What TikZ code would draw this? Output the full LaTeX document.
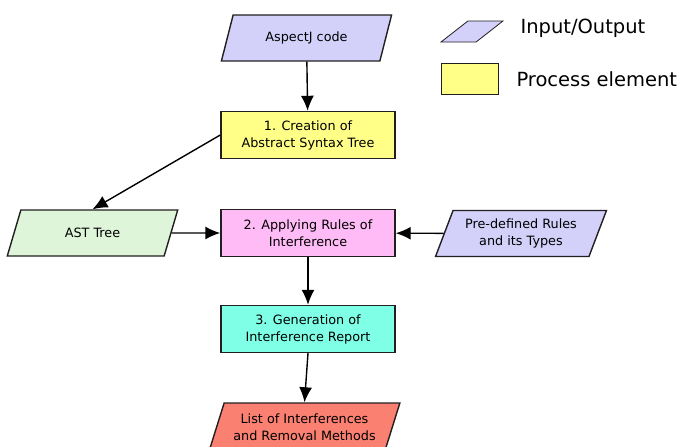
\documentclass[tikz,border=0pt]{standalone}
\usepackage{fontspec}
\setmainfont{DejaVu Sans}
\usepackage{tikz}
\usetikzlibrary{arrows.meta,shapes.geometric}

\definecolor{iocol}{HTML}{D3D0FA}
\definecolor{proccol}{HTML}{FFFF88}
\definecolor{astcol}{HTML}{DFF5DA}
\definecolor{rulecol}{HTML}{FFBBF5}
\definecolor{repcol}{HTML}{7FFFE6}
\definecolor{outcol}{HTML}{FA8072}
\definecolor{edgecol}{HTML}{231F20}

\begin{document}
\begin{tikzpicture}[x=1pt,y=-1pt,
    iobox/.style={trapezium,trapezium left angle=65,trapezium right angle=115,
      trapezium stretches=true,draw=edgecol,line width=1.4pt,inner sep=1pt,
      minimum width=171pt,minimum height=46pt,align=center,
      font=\fontsize{12.8}{17}\selectfont},
    procbox/.style={rectangle,draw=edgecol,line width=1.4pt,inner sep=1pt,
      minimum width=174pt,minimum height=47pt,align=center,
      font=\fontsize{12.8}{17}\selectfont},
    flow/.style={line width=1.4pt,-{Latex[length=15pt,width=13pt]}}]
  \useasboundingbox (0,0) rectangle (681,447);

  % main column
  \node[iobox,fill=iocol] (aspectj) at (306.5,38) {AspectJ code};
  \node[procbox,fill=proccol] (create) at (308,135) {1. Creation of\\Abstract Syntax Tree};
  \node[procbox,fill=rulecol] (apply) at (308,233) {2. Applying Rules of\\Interference};
  \node[procbox,fill=repcol] (report) at (308,329) {3. Generation of\\Interference Report};
  \node[iobox,fill=outcol,minimum width=191pt,minimum height=48pt] (result) at (304.5,427) {List of Interferences\\and Removal Methods};

  % side inputs
  \node[iobox,fill=astcol] (ast) at (92.5,233) {AST Tree};
  \node[iobox,fill=iocol] (rules) at (521,233.5) {Pre-defined Rules\\and its Types};

  % legend
  \node[iobox,fill=iocol,trapezium left angle=71,trapezium right angle=109,
    minimum width=62pt,minimum height=21pt,line width=0.8pt] (legio) at (472,31.5) {\strut};
  \node[procbox,fill=proccol,minimum width=57pt,minimum height=31pt,line width=0.8pt] (legproc) at (469.5,78.5) {};
  \node[anchor=west,font=\fontsize{19.5}{22}\selectfont] (legiotext) at (517,28) {Input/Output};
  \node[anchor=west,font=\fontsize{19.5}{22}\selectfont] (legproctext) at (513,79) {Process element};

  % connectors
  \draw[flow] (aspectj) -- (create);
  \draw[flow] (create.west) -- (ast.north);
  \draw[flow] (ast) -- (apply);
  \draw[flow] (rules) -- (apply);
  \draw[flow] (apply) -- (report);
  \draw[flow] (report.south) -- (result.north);
\end{tikzpicture}
\end{document}
